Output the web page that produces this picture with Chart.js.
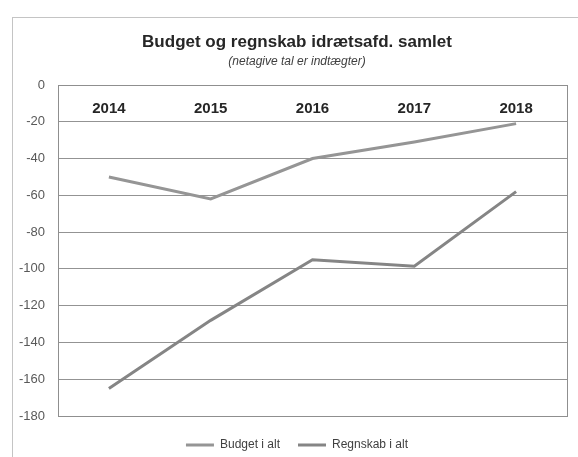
<!DOCTYPE html>
<html><head><meta charset="utf-8">
<script src="https://cdn.jsdelivr.net/npm/chart.js@4/dist/chart.umd.min.js"></script>
<style>
html,body{margin:0;padding:0;background:#fff;overflow:hidden;}
#frame{position:absolute;left:12px;top:17px;width:600px;height:470px;border:1px solid #c4c4c4;box-sizing:border-box;}
#wrap{position:absolute;left:0;top:0;width:578px;height:457px;}
</style></head><body>
<div id="frame"></div>
<div id="wrap"><canvas id="c" width="578" height="457"></canvas></div>
<script>
const categories = ['2014', '2015', '2016', '2017', '2018'];
const budgetIAlt = [-50, -62, -40, -31, -21];
const regnskabIAlt = [-165, -128, -95, -98.5, -58];
const yTickValues = [0, -20, -40, -60, -80, -100, -120, -140, -160, -180];
const seriesNames = ['Budget i alt', 'Regnskab i alt'];
const titleText = 'Budget og regnskab idrætsafd. samlet';
const subtitleText = '(netagive tal er indtægter)';

const FONT = "'Liberation Sans', Arial, sans-serif";

const plotBorder = {
  id: 'plotBorder',
  beforeDatasetsDraw(chart) {
    const {ctx, chartArea: {left, top, right, bottom}} = chart;
    ctx.save();
    ctx.strokeStyle = '#8f8f8f';
    ctx.lineWidth = 1;
    ctx.strokeRect(Math.round(left) + 0.5, Math.round(top) + 0.5, Math.round(right) - Math.round(left), Math.round(bottom) - Math.round(top));
    ctx.restore();
  }
};

new Chart(document.getElementById('c'), {
  type: 'line',
  data: {
    labels: categories,
    datasets: [
      { label: seriesNames[0], data: budgetIAlt, borderColor: '#959595', backgroundColor: '#959595', borderWidth: 3, pointRadius: 0, tension: 0 },
      { label: seriesNames[1], data: regnskabIAlt, borderColor: '#858585', backgroundColor: '#858585', borderWidth: 3, pointRadius: 0, tension: 0 }
    ]
  },
  options: {
    responsive: false,
    animation: false,
    devicePixelRatio: 1,
    layout: { padding: { left: 16, right: 0, top: 17, bottom: -4 } },
    plugins: {
      title: {
        display: true, text: titleText, color: '#262626',
        font: { family: FONT, size: 17, weight: 'bold', lineHeight: 1.2 },
        padding: { top: 15, bottom: 2.4 }
      },
      subtitle: {
        display: true, text: subtitleText, color: '#404040',
        font: { family: FONT, size: 12, style: 'italic', lineHeight: 1.2 },
        padding: { top: 0, bottom: 15.8 }
      },
      legend: {
        position: 'bottom',
        title: { display: true, text: '', font: { size: 5, lineHeight: 1 }, padding: 0 },
        labels: {
          boxWidth: 28, boxHeight: 3, padding: 18, color: '#404040',
          font: { family: FONT, size: 12 },
          generateLabels(chart) {
            const items = Chart.defaults.plugins.legend.labels.generateLabels(chart);
            items.forEach(it => { it.lineWidth = 0; it.fillStyle = it.strokeStyle; });
            return items;
          }
        }
      },
      tooltip: { enabled: false }
    },
    scales: {
      x: {
        type: 'category',
        position: 'top',
        offset: true,
        grid: { display: false, drawTicks: false },
        border: { display: false },
        ticks: { mirror: true, padding: 15, color: '#262626', font: { family: FONT, size: 15, weight: 'bold', lineHeight: 1.2 }, maxRotation: 0 },
        afterFit(s) { s.height = 0; }
      },
      y: {
        position: 'left',
        min: -180, max: 0,
        afterBuildTicks(s) { s.ticks = yTickValues.map(v => ({ value: v })); },
        grid: { color: '#939393', lineWidth: 1, drawTicks: false },
        border: { display: false },
        ticks: { padding: 13, color: '#595959', font: { family: FONT, size: 13 } },
        afterFit(s) { s.width = 42; }
      },
      yRight: {
        position: 'right',
        min: -180, max: 0,
        grid: { display: false, drawTicks: false },
        border: { display: false },
        ticks: { display: false },
        afterFit(s) { s.width = 11; }
      }
    }
  },
  plugins: [plotBorder]
});
</script>
</body></html>
